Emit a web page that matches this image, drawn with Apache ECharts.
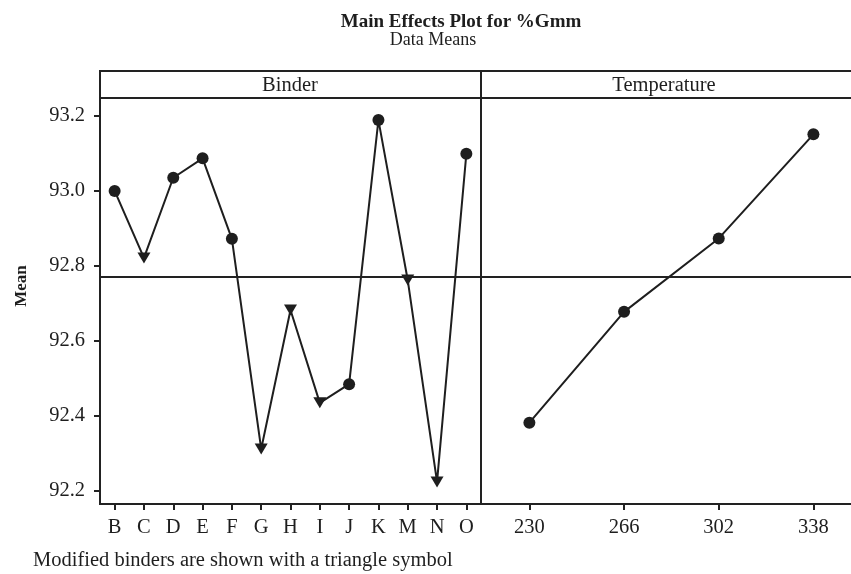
<!DOCTYPE html>
<html>
<head>
<meta charset="utf-8">
<title>Main Effects Plot for %Gmm</title>
<script src="https://cdn.jsdelivr.net/npm/echarts@6/dist/echarts.min.js"></script>
<style>
  html, body { margin: 0; padding: 0; background: #fff; }
  #chart { width: 851px; height: 574px; }
</style>
</head>
<body>
<div id="chart"></div>
<script>
// Factor levels and their data means
const binders = ['B', 'C', 'D', 'E', 'F', 'G', 'H', 'I', 'J', 'K', 'M', 'N', 'O'];
const binderMeans = [93.000, 92.821, 93.035, 93.087, 92.872, 92.311, 92.682, 92.434, 92.484, 93.189, 92.762, 92.223, 93.099];
const modifiedBinders = ['C', 'G', 'H', 'I', 'M', 'N'];

const temperatures = [230, 266, 302, 338];
const temperatureMeans = [92.381, 92.677, 92.873, 93.151];

const meanTicks = [92.2, 92.4, 92.6, 92.8, 93.0, 93.2];

// Grand mean drawn as the horizontal reference line in both panels
const grandMean = binderMeans.reduce((a, b) => a + b, 0) / binderMeans.length;

const FONT = "'Liberation Serif', 'DejaVu Serif', serif";
const INK = '#1e1e1e';
const FRAME = '#222';

const binderData = binders.map((b, i) => {
  const tri = modifiedBinders.includes(b);
  return {
    value: binderMeans[i],
    symbol: tri ? 'triangle' : 'circle',
    symbolSize: tri ? [13, 11] : 12,
    symbolRotate: tri ? 180 : 0
  };
});

const temperatureData = temperatures.map((t, i) => [t, temperatureMeans[i]]);

const meanLine = {
  silent: true,
  symbol: ['none', 'none'],
  label: { show: false },
  lineStyle: { type: 'solid', color: FRAME, width: 2 },
  data: [{ yAxis: grandMean }]
};

const chart = echarts.init(document.getElementById('chart'), null, { renderer: 'canvas' });

chart.setOption({
  animation: false,
  backgroundColor: '#fff',
  title: [
    {
      text: 'Main Effects Plot for %Gmm',
      left: 456, top: 8, textAlign: 'center',
      textStyle: { fontFamily: FONT, fontSize: 19, fontWeight: 'bold', color: INK }
    },
    {
      text: 'Data Means',
      left: 428, top: 26, textAlign: 'center',
      textStyle: { fontFamily: FONT, fontSize: 18, fontWeight: 'normal', color: INK }
    }
  ],
  grid: [
    { left: 100, top: 98, width: 381, height: 406, show: true, borderColor: FRAME, borderWidth: 2, backgroundColor: 'transparent', containLabel: false },
    // open on the right: this panel continues past the page edge
    { left: 481, top: 98, right: 0, height: 406, show: false, containLabel: false }
  ],
  xAxis: [
    {
      type: 'category', gridIndex: 0, data: binders, boundaryGap: true,
      axisLine: { show: true, lineStyle: { color: FRAME, width: 2 } },
      axisTick: { show: true, alignWithLabel: true, length: 6, lineStyle: { color: FRAME, width: 2 } },
      axisLabel: { interval: 0, margin: 13, fontFamily: FONT, fontSize: 20.5, color: INK },
      splitLine: { show: false }
    },
    {
      type: 'value', gridIndex: 1, min: 211.6, max: 352.3,
      axisLine: { show: true, onZero: false, lineStyle: { color: FRAME, width: 2 } },
      axisTick: { show: true, length: 6, customValues: temperatures, lineStyle: { color: FRAME, width: 2 } },
      axisLabel: { customValues: temperatures, margin: 13, fontFamily: FONT, fontSize: 20.5, color: INK, showMinLabel: true, showMaxLabel: true },
      splitLine: { show: false }
    }
  ],
  yAxis: [
    {
      type: 'value', gridIndex: 0, min: 92.164, max: 93.248,
      axisLine: { show: true, lineStyle: { color: FRAME, width: 2 } },
      axisTick: { show: true, length: 6, customValues: meanTicks, lineStyle: { color: FRAME, width: 2 } },
      axisLabel: {
        margin: 15, customValues: meanTicks, fontFamily: FONT, fontSize: 20.5, color: INK,
        formatter: v => v.toFixed(1)
      },
      splitLine: { show: false }
    },
    {
      type: 'value', gridIndex: 1, min: 92.164, max: 93.248,
      axisLine: { show: true, lineStyle: { color: FRAME, width: 2 } },
      axisTick: { show: false }, axisLabel: { show: false },
      splitLine: { show: false }
    }
  ],
  series: [
    {
      name: 'Binder', type: 'line', xAxisIndex: 0, yAxisIndex: 0,
      data: binderData,
      lineStyle: { color: INK, width: 2 },
      itemStyle: { color: INK },
      markLine: meanLine,
      z: 3
    },
    {
      name: 'Temperature', type: 'line', xAxisIndex: 1, yAxisIndex: 1,
      data: temperatureData,
      symbol: 'circle', symbolSize: 12,
      lineStyle: { color: INK, width: 2 },
      itemStyle: { color: INK },
      markLine: meanLine,
      z: 3
    }
  ],
  graphic: [
    {
      type: 'rect', shape: { x: 100, y: 71, width: 381, height: 27 },
      style: { fill: 'none', stroke: FRAME, lineWidth: 2 }
    },
    {
      type: 'rect', shape: { x: 481, y: 71, width: 379, height: 27 },
      style: { fill: 'none', stroke: FRAME, lineWidth: 2 }
    },
    {
      type: 'text', x: 290, y: 86,
      style: { text: 'Binder', font: "20.5px 'Liberation Serif', serif", fill: INK, textAlign: 'center', textVerticalAlign: 'middle' }
    },
    {
      type: 'text', x: 664, y: 86,
      style: { text: 'Temperature', font: "20.5px 'Liberation Serif', serif", fill: INK, textAlign: 'center', textVerticalAlign: 'middle' }
    },
    {
      // y-axis title, spanning the whole panel including its header strip
      type: 'text', x: 22, y: 286, rotation: Math.PI / 2,
      style: { text: 'Mean', font: "bold 17px 'Liberation Serif', serif", fill: INK, textAlign: 'center', textVerticalAlign: 'middle' }
    },
    {
      type: 'text', x: 33, y: 561,
      style: { text: 'Modified binders are shown with a triangle symbol', font: "20.5px 'Liberation Serif', serif", fill: INK, textAlign: 'left', textVerticalAlign: 'middle' }
    }
  ]
});
</script>
</body>
</html>
